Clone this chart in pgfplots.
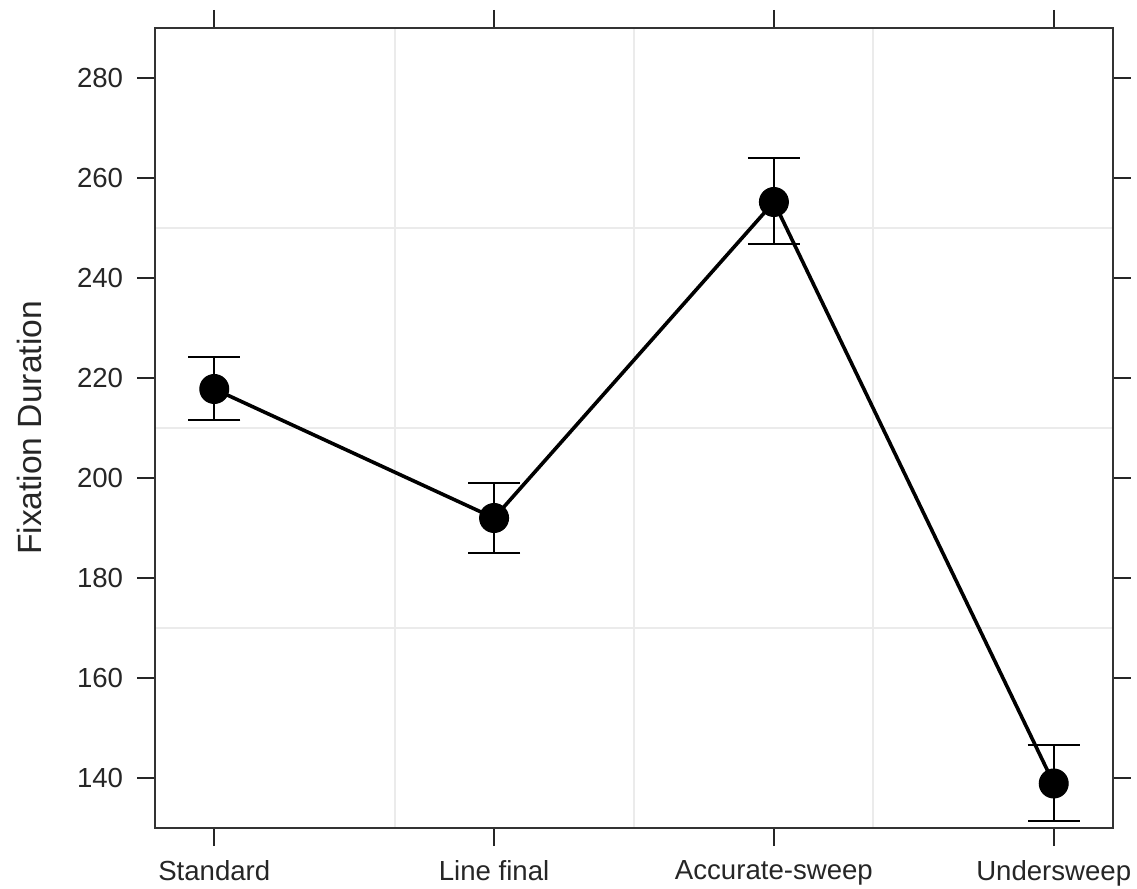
\documentclass[border=0pt]{standalone}
\usepackage{pgfplots}
\pgfplotsset{compat=1.18}
\usepackage{pgfplotstable}
\usepackage{fontspec}
\setmainfont{Liberation Sans}
\pgfplotstableread{
x y ep em
0 217.8 6.4 6.2
1 192.0 7.0 7.0
2 255.2 8.7 8.5
3 138.9 7.6 7.6
}\datatab
\begin{document}
\begin{tikzpicture}
\begin{axis}[
  at={(0,0)}, anchor=south west,
  scale only axis, width=478.5pt, height=400pt,
  xmin=-0.21, xmax=3.21, ymin=130, ymax=290,
  xtick={0,1,2,3},
  xticklabels={Standard,Line final,Accurate-sweep,Undersweep},
  ytick={140,160,180,200,220,240,260,280},
  tick align=outside, major tick length=9pt,
  xtick pos=both, ytick pos=both,
  xticklabel pos=lower, yticklabel pos=left,
  minor xtick={0.645,1.5,2.355}, minor ytick={170,210,250},
  xminorgrids, yminorgrids, minor tick length=0pt,
  minor grid style={line width=1pt, color=black!8},
  axis line style={line width=1pt, color=black!80},
  every tick/.style={line width=1pt, color=black!85},
  tick label style={font=\fontsize{13.8}{16}\selectfont, color=black!85},
  /pgf/number format/assume math mode=true,
  xticklabel style={anchor=north, inner sep=0pt, yshift=-7pt},
  yticklabel style={anchor=east, inner sep=0pt, xshift=-7pt},
  ylabel={Fixation Duration},
  every axis y label/.style={at={([xshift=-56.75pt]axis description cs:0,0.5)}, rotate=90, anchor=south, inner sep=0pt, font=\fontsize{16.8}{19}\selectfont, color=black!85},
]
\addplot[black, line width=1.8pt, mark=*, mark size=7.2pt,
  mark options={line width=0.6pt},
  error bars/.cd, y dir=both, y explicit,
  error bar style={line width=1pt, black},
  error mark options={rotate=90, mark size=13pt, line width=1pt, black}]
  table[x=x, y=y, y error plus=ep, y error minus=em] {\datatab};
\end{axis}
\pgfresetboundingbox
\useasboundingbox (-77.75pt,-30.5pt) rectangle (490.75pt,414pt);
\end{tikzpicture}
\end{document}
